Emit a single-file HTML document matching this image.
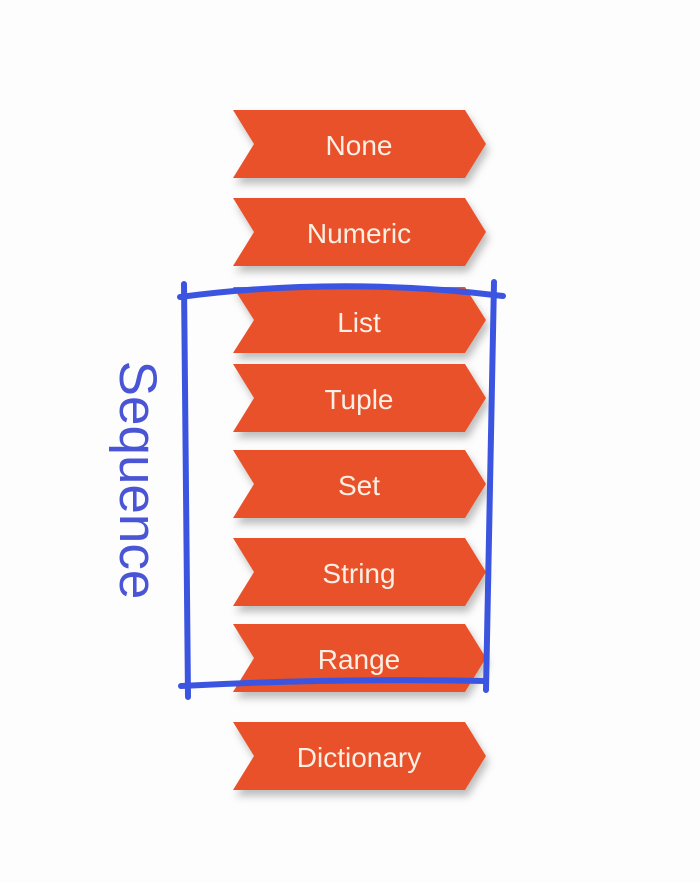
<!DOCTYPE html>
<html><head><meta charset="utf-8"><style>
body{margin:0;background:#fff;}
</style></head><body>
<svg width="700" height="883" viewBox="0 0 700 883" xmlns="http://www.w3.org/2000/svg">
<defs>
<filter id="sh" x="-10%" y="-20%" width="130%" height="160%">
<feDropShadow dx="3" dy="6" stdDeviation="4" flood-color="#000" flood-opacity="0.25"/>
</filter>
</defs>
<rect width="700" height="883" fill="#fdfdfd"/>
<g fill="#e8512a" filter="url(#sh)">
<polygon points="233,110 465,110 486,144 465,178 233,178 254,144"/>
<polygon points="233,198 465,198 486,232 465,266 233,266 254,232"/>
<polygon points="233,287 465,287 486,320 465,353 233,353 254,320"/>
<polygon points="233,364 465,364 486,398 465,432 233,432 254,398"/>
<polygon points="233,450 465,450 486,484 465,518 233,518 254,484"/>
<polygon points="233,538 465,538 486,572 465,606 233,606 254,572"/>
<polygon points="233,624 465,624 486,658 465,692 233,692 254,658"/>
<polygon points="233,722 465,722 486,756 465,790 233,790 254,756"/>
</g>
<g font-family="Liberation Sans, sans-serif" font-size="28" fill="#fcefe4" text-anchor="middle">
<text x="359" y="155">None</text>
<text x="359" y="243">Numeric</text>
<text x="359" y="332">List</text>
<text x="359" y="409">Tuple</text>
<text x="359" y="495">Set</text>
<text x="359" y="583">String</text>
<text x="359" y="669">Range</text>
<text x="359" y="767">Dictionary</text>
</g>
<g stroke="#3b55e0" stroke-width="6" fill="none" stroke-linecap="round">
<path d="M180,297 Q340,276 503,296"/>
<path d="M184,284 L188,697"/>
<path d="M494,282 L486,690"/>
<path d="M181,686 Q330,678 486,681"/>
</g>
<text transform="translate(120,480) rotate(90)" font-family="Liberation Sans, sans-serif" font-size="53" fill="#4a55d6" text-anchor="middle">Sequence</text>
</svg>
</body></html>
